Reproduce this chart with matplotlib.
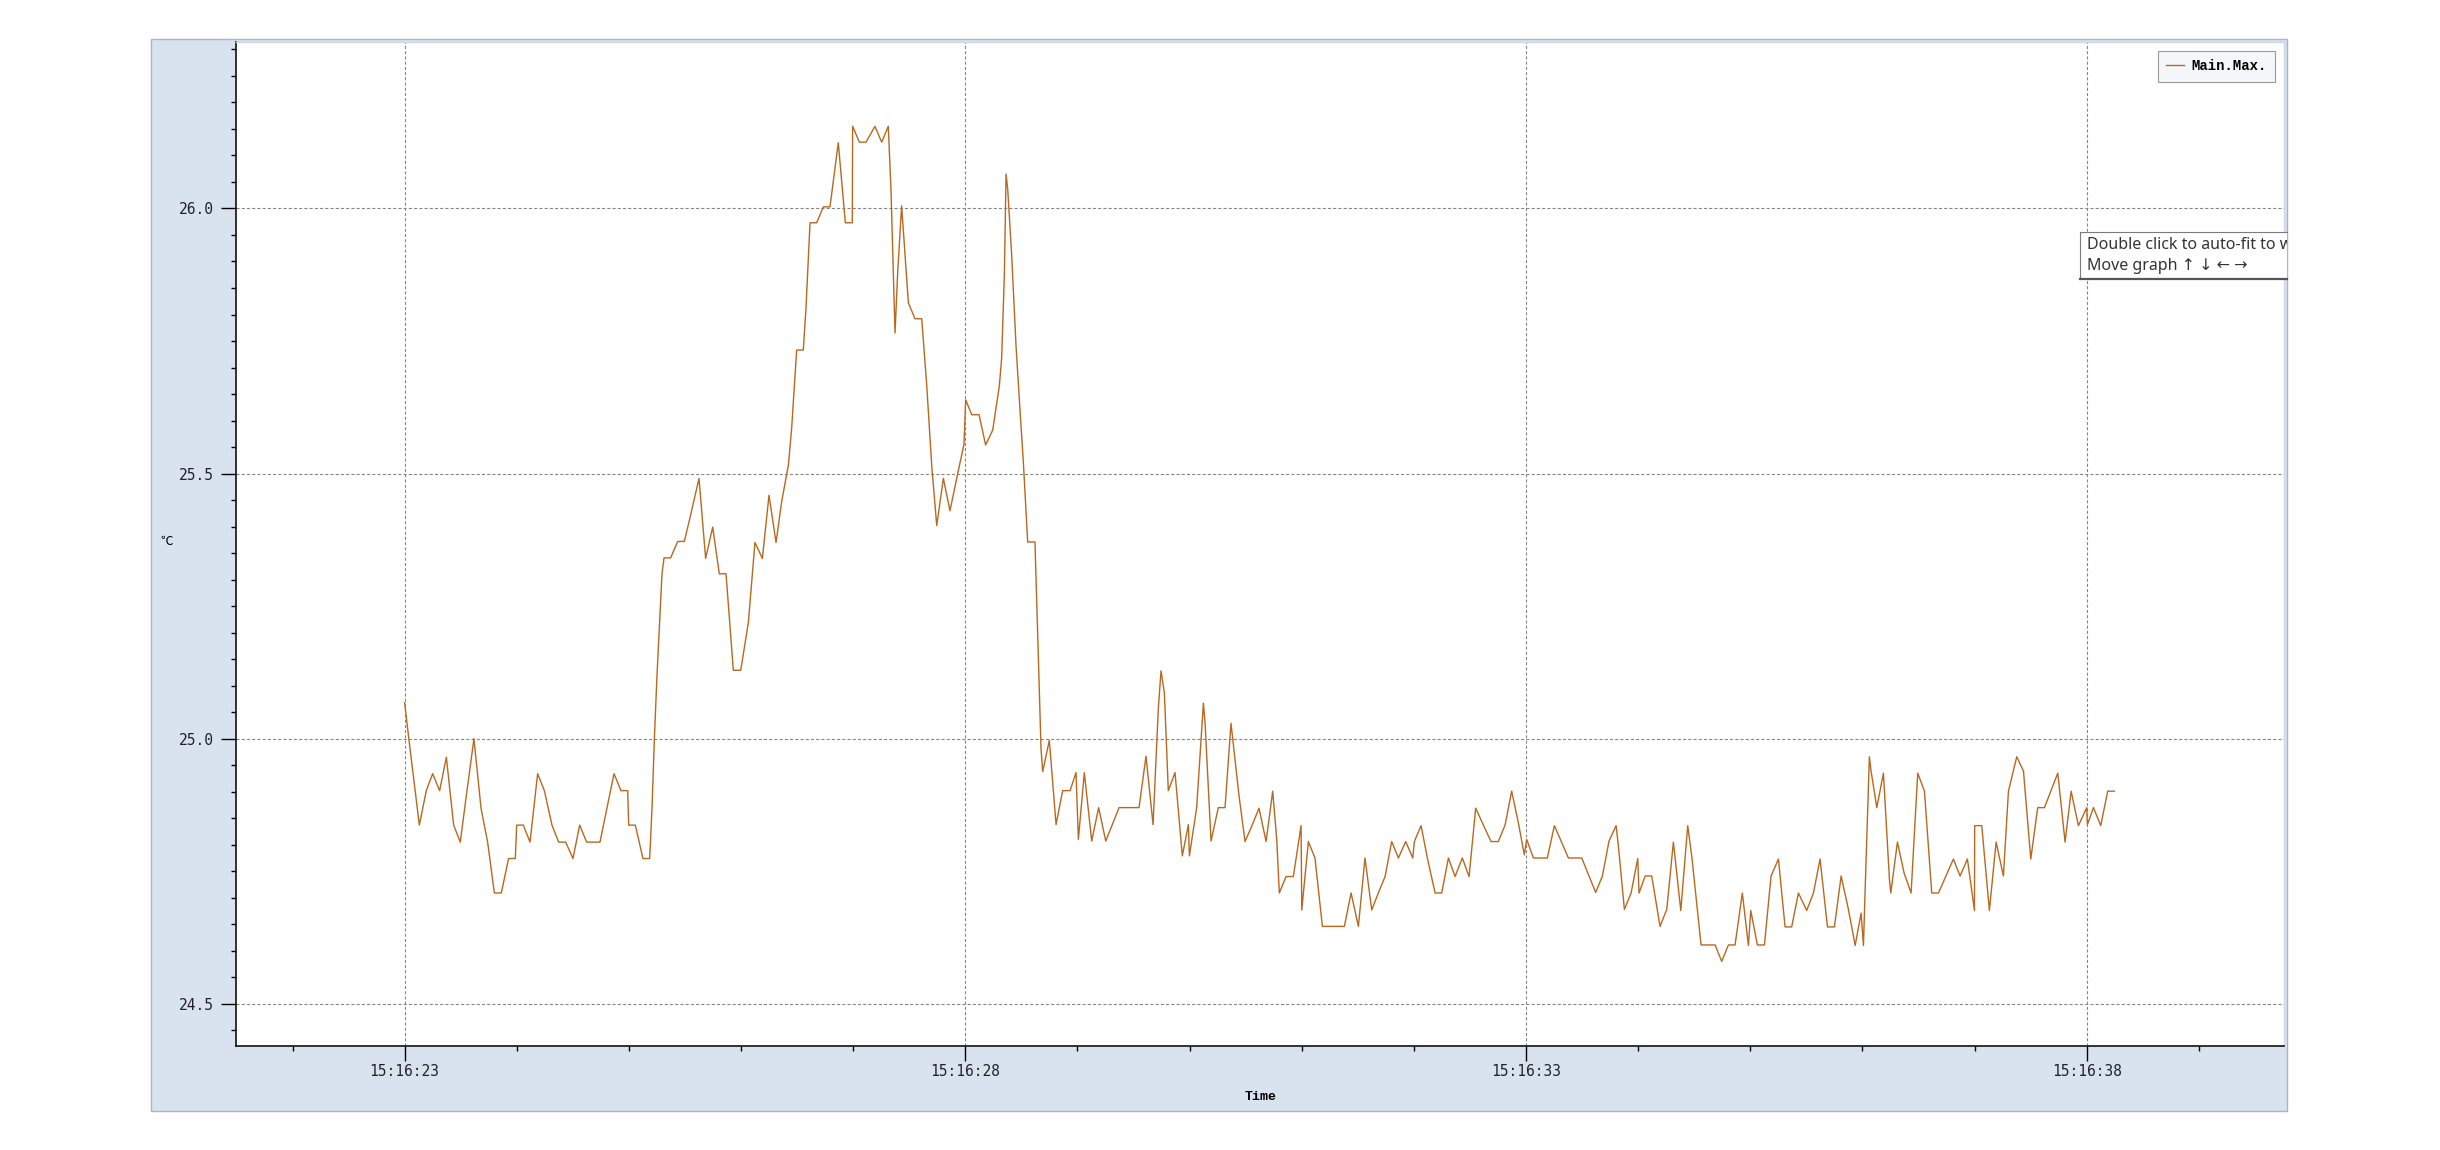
import matplotlib
matplotlib.use("Agg")
import matplotlib.pyplot as plt
import numpy as np
from matplotlib.patches import Rectangle
from matplotlib.ticker import MultipleLocator, FuncFormatter, FormatStrFormatter

# 采样起点 15:16:23，时间为相对秒数（从图中读取的折线顶点）
START_SEC = 23
CLOCK_PREFIX = "15:16"

t_offset = [
    0.000, 0.036, 0.131, 0.193, 0.250, 0.312, 0.372, 0.437, 0.496, 0.556,
    0.618, 0.681, 0.740, 0.800, 0.862, 0.927, 0.987, 0.999, 1.058, 1.118,
    1.186, 1.246, 1.314, 1.373, 1.436, 1.501, 1.561, 1.623, 1.742, 1.804,
    1.867, 1.929, 1.989, 1.998, 2.057, 2.125, 2.185, 2.206, 2.227, 2.250,
    2.274, 2.295, 2.313, 2.372, 2.435, 2.494,
    2.545, 2.625, 2.684, 2.747, 2.806, 2.866, 2.931, 2.997, 3.065, 3.124,
    3.190, 3.249, 3.312, 3.362, 3.422, 3.451, 3.496, 3.555, 3.579, 3.615,
    3.674, 3.734, 3.793, 3.867, 3.930, 3.992, 3.995, 4.055, 4.114, 4.194,
    4.254, 4.313, 4.337, 4.373, 4.397, 4.432, 4.492, 4.551, 4.611, 4.655,
    4.700, 4.745, 4.804, 4.863, 4.938, 4.988,
    5.003, 5.057, 5.122, 5.181, 5.244, 5.303, 5.324, 5.348, 5.363, 5.378,
    5.413, 5.452, 5.488, 5.517, 5.556, 5.621, 5.651, 5.675, 5.690, 5.749,
    5.809, 5.868, 5.934, 5.987, 6.008, 6.061, 6.127, 6.189, 6.252, 6.371,
    6.549, 6.611, 6.674, 6.721, 6.745, 6.775, 6.810, 6.870, 6.935, 6.989,
    6.998, 7.063, 7.123, 7.138, 7.191, 7.256, 7.316, 7.369,
    7.441, 7.494, 7.554, 7.619, 7.682, 7.741, 7.777, 7.800, 7.860, 7.925,
    7.994, 8.000, 8.059, 8.118, 8.184, 8.380, 8.440, 8.505, 8.564, 8.624,
    8.683, 8.743, 8.802, 8.862, 8.927, 8.990, 9.004, 9.064, 9.123, 9.189,
    9.248, 9.308, 9.367, 9.432, 9.492, 9.551, 9.620, 9.688, 9.753, 9.813,
    9.872, 9.932, 9.985,
    10.006, 10.066, 10.190, 10.253, 10.312, 10.378, 10.497, 10.556, 10.621, 10.681,
    10.740, 10.803, 10.824, 10.877, 10.937, 10.996, 11.008, 11.062, 11.121, 11.195,
    11.255, 11.314, 11.380, 11.442, 11.478, 11.561, 11.686, 11.745, 11.805, 11.864,
    11.929, 11.983, 12.004, 12.063, 12.126, 12.185, 12.251, 12.310, 12.369, 12.429,
    12.503, 12.563, 12.622, 12.688, 12.750, 12.810, 12.875, 12.935, 12.988, 13.009,
    13.024, 13.047, 13.062, 13.077, 13.128, 13.187, 13.241, 13.253, 13.312, 13.371,
    13.434, 13.493, 13.553, 13.618, 13.678, 13.811, 13.871, 13.936, 13.999, 14.001,
    14.064, 14.132, 14.192, 14.257, 14.302, 14.376, 14.436, 14.501, 14.563, 14.623,
    14.742, 14.807, 14.861, 14.926, 15.000, 15.006, 15.060, 15.125, 15.187, 15.247,
]

main_max = [
    25.068, 25.002, 24.837, 24.902, 24.934, 24.902, 24.965, 24.837, 24.805, 24.902,
    25.000, 24.869, 24.805, 24.709, 24.709, 24.774, 24.774, 24.837, 24.837, 24.805,
    24.934, 24.902, 24.837, 24.805, 24.805, 24.774, 24.837, 24.805, 24.805, 24.869,
    24.934, 24.902, 24.902, 24.837, 24.837, 24.774, 24.774, 24.869, 25.000, 25.118,
    25.219, 25.311, 25.341, 25.341, 25.372, 25.372,
    25.417, 25.491, 25.340, 25.399, 25.311, 25.311, 25.129, 25.129, 25.219, 25.370,
    25.340, 25.459, 25.370, 25.447, 25.516, 25.585, 25.733, 25.733, 25.812, 25.973,
    25.973, 26.003, 26.003, 26.124, 25.973, 25.973, 26.155, 26.125, 26.125, 26.155,
    26.125, 26.155, 26.035, 25.765, 25.881, 26.005, 25.822, 25.792, 25.792, 25.669,
    25.516, 25.402, 25.491, 25.430, 25.506, 25.555,
    25.639, 25.611, 25.611, 25.554, 25.582, 25.665, 25.718, 25.875, 26.065, 26.036,
    25.913, 25.741, 25.618, 25.523, 25.371, 25.371, 25.152, 24.981, 24.938, 24.997,
    24.838, 24.902, 24.902, 24.936, 24.810, 24.936, 24.807, 24.870, 24.807, 24.870,
    24.870, 24.967, 24.838, 25.057, 25.128, 25.086, 24.902, 24.936, 24.779, 24.838,
    24.779, 24.870, 25.067, 25.029, 24.807, 24.870, 24.870, 25.029,
    24.892, 24.806, 24.835, 24.869, 24.806, 24.901, 24.810, 24.709, 24.740, 24.740,
    24.836, 24.677, 24.806, 24.775, 24.646, 24.646, 24.709, 24.646, 24.775, 24.677,
    24.709, 24.740, 24.806, 24.775, 24.806, 24.775, 24.806, 24.836, 24.772, 24.709,
    24.709, 24.775, 24.740, 24.775, 24.740, 24.869, 24.837, 24.806, 24.806, 24.837,
    24.901, 24.841, 24.781,
    24.810, 24.775, 24.775, 24.836, 24.807, 24.775, 24.775, 24.744, 24.710, 24.741,
    24.807, 24.836, 24.797, 24.678, 24.709, 24.774, 24.709, 24.741, 24.741, 24.646,
    24.678, 24.805, 24.676, 24.836, 24.778, 24.611, 24.611, 24.580, 24.611, 24.611,
    24.709, 24.610, 24.676, 24.611, 24.611, 24.741, 24.773, 24.645, 24.645, 24.709,
    24.676, 24.709, 24.773, 24.645, 24.645, 24.741, 24.678, 24.610, 24.671, 24.610,
    24.715, 24.867, 24.966, 24.939, 24.870, 24.935, 24.734, 24.709, 24.805, 24.747,
    24.709, 24.935, 24.901, 24.709, 24.709, 24.773, 24.741, 24.773, 24.676, 24.836,
    24.836, 24.676, 24.805, 24.741, 24.901, 24.966, 24.939, 24.773, 24.870, 24.870,
    24.935, 24.805, 24.901, 24.836, 24.870, 24.838, 24.870, 24.836, 24.901, 24.901,
]

LINE_COLOR = "#b8681f"
PANEL_COLOR = "#d9e3f0"
TICK_FONT = "DejaVu Sans Mono"
MONO_BOLD = "Liberation Mono"

fig = plt.figure(figsize=(24.4, 11.5), dpi=100)
fig.patch.set_facecolor("white")

# 背景面板（浅蓝灰），放在所有坐标轴之下
panel = Rectangle((0.0619, 0.0339), 0.9373 - 0.0619, 0.9661 - 0.0339,
                  transform=fig.transFigure, facecolor=PANEL_COLOR,
                  edgecolor="#aab5c4", linewidth=1.0, zorder=-10)
fig.patches.append(panel)

ax = fig.add_axes([0.0969, 0.0907, 0.9361 - 0.0969, 0.9635 - 0.0907])
ax.set_zorder(1)
ax.set_facecolor("white")

x = np.asarray(t_offset) + START_SEC
ax.plot(x, main_max, color=LINE_COLOR, linewidth=1.0, label="Main.Max.", zorder=3)

ax.set_xlim(21.5, 39.76)
ax.set_ylim(24.421, 26.314)

ax.xaxis.set_major_locator(MultipleLocator(5, offset=3))
ax.xaxis.set_minor_locator(MultipleLocator(1))
ax.xaxis.set_major_formatter(FuncFormatter(lambda v, _: f"{CLOCK_PREFIX}:{int(round(v)):02d}"))
ax.yaxis.set_major_locator(MultipleLocator(0.5))
ax.yaxis.set_minor_locator(MultipleLocator(0.05))
ax.yaxis.set_major_formatter(FormatStrFormatter("%.1f"))

ax.tick_params(axis="both", which="major", direction="out", length=10.5,
               width=1.0, color="black", labelsize=10.5, labelcolor="#222222")
ax.tick_params(axis="both", which="minor", direction="out", length=3.5,
               width=1.0, color="black")
ax.tick_params(axis="y", which="major", pad=6)
ax.tick_params(axis="x", which="major", pad=3)
for lbl in ax.get_xticklabels() + ax.get_yticklabels():
    lbl.set_fontfamily(TICK_FONT)

ax.grid(which="major", color="#858585", linestyle=(0, (2.8, 1.9)), linewidth=0.8)

for side in ("left", "bottom"):
    ax.spines[side].set_color("#111111")
    ax.spines[side].set_linewidth(1.2)
for side in ("top", "right"):
    ax.spines[side].set_color("#cdd8e7")
    ax.spines[side].set_linewidth(1.0)

ax.set_xlabel("Time", fontfamily=MONO_BOLD, fontweight="bold", fontsize=9.5, va="center")
ax.xaxis.set_label_coords(0.5, -0.0508)
ax.set_ylabel("℃", rotation=0, fontsize=9, family=["Noto Sans CJK SC", "DejaVu Sans"],
              va="center", ha="center")
ax.yaxis.set_label_coords(-0.0342, 0.5025)

leg = ax.legend(loc="upper right", bbox_to_anchor=(0.9956, 0.991), borderaxespad=0,
                frameon=True, fancybox=False, edgecolor="#9a9a9a", facecolor="#f4f6fa",
                framealpha=1.0, handlelength=1.3, handletextpad=0.5, borderpad=0.6,
                prop={"family": MONO_BOLD, "weight": "bold", "size": 10})
leg.get_frame().set_linewidth(0.8)

# 悬浮提示框（右侧被截断）
tip = fig.add_axes([2080 / 2440, 1 - 279 / 1150, (2287 - 2080) / 2440, 47 / 1150])
tip.set_zorder(5)
tip.set_facecolor("white")
tip.set_xticks([])
tip.set_yticks([])
tip.set_xlim(0, 1)
tip.set_ylim(0, 1)
tip.spines["right"].set_visible(False)
tip.spines["top"].set_color("#7a7a7a")
tip.spines["left"].set_color("#7a7a7a")
tip.spines["bottom"].set_color("#555555")
tip.spines["bottom"].set_linewidth(1.6)
tip.text(0.032, 0.72, "Double click to auto-fit to window", fontsize=11.5,
         family="Noto Sans", color="#333333", va="center", ha="left", clip_on=True)
tip.text(0.032, 0.28, "Move graph ↑ ↓ ← →", fontsize=11.5,
         family=["Noto Sans", "DejaVu Sans"], color="#333333", va="center",
         ha="left", clip_on=True)

fig.savefig("out.png", dpi=100, facecolor="white")
